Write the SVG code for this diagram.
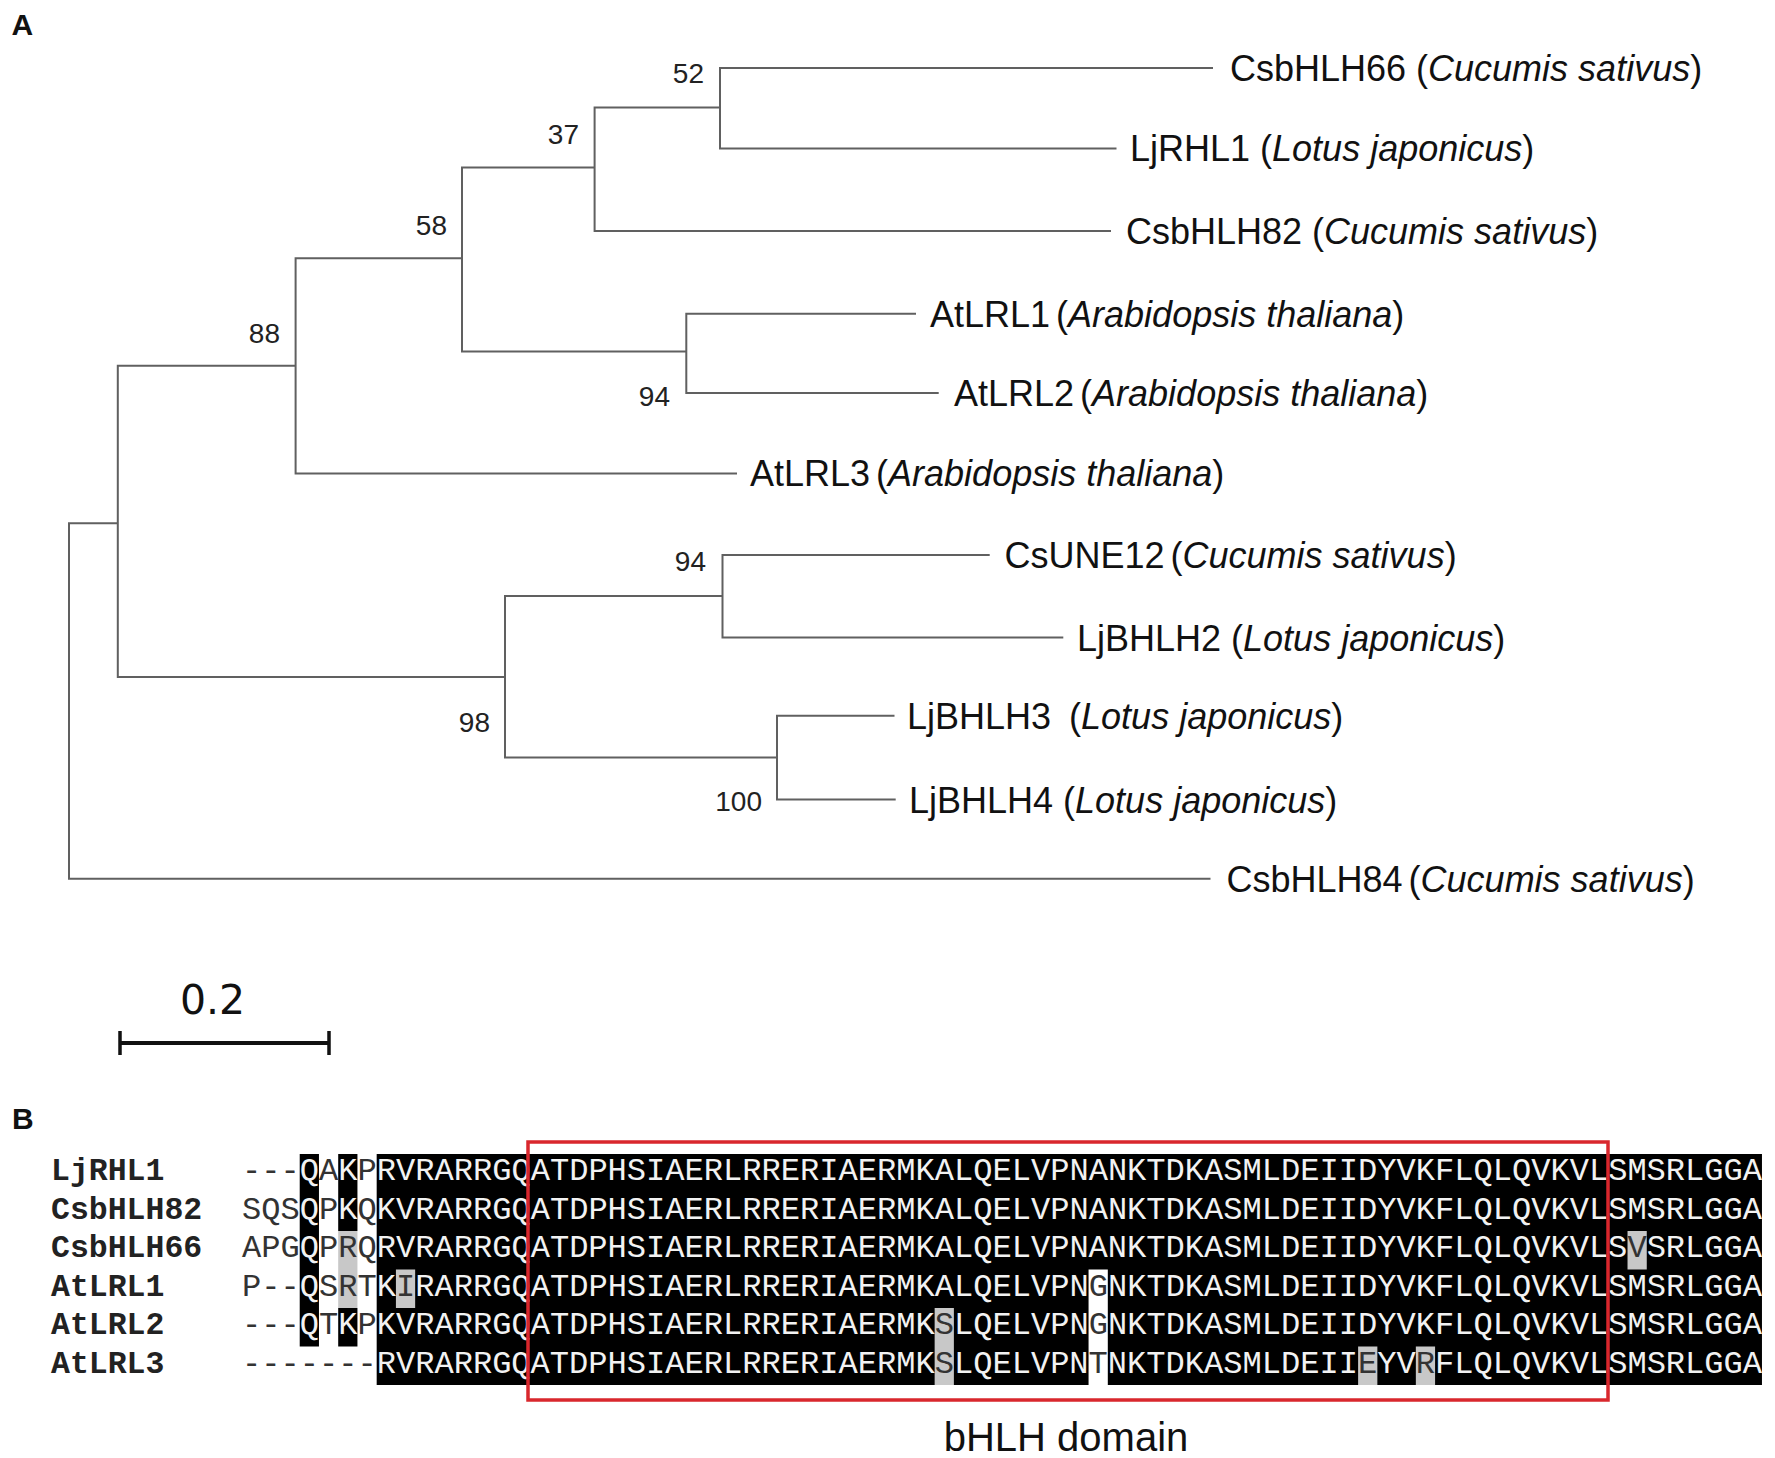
<svg xmlns="http://www.w3.org/2000/svg" width="1775" height="1458" viewBox="0 0 1775 1458">
<style>
.panel{font-family:"Liberation Sans",Arial,sans-serif;font-weight:bold;font-size:30px;fill:#111}
.leaf{font-family:"Liberation Sans",Arial,sans-serif;font-size:36px;fill:#111}
.sp{font-style:italic}
.bs{font-family:"Liberation Sans",Arial,sans-serif;font-size:28px;fill:#222;text-anchor:end}
.tree{fill:none;stroke:#606060;stroke-width:2;stroke-linecap:square}
.scale{font-family:"DejaVu Sans",Verdana,sans-serif;font-size:41px;fill:#111;text-anchor:middle}
.name{font-family:"Liberation Mono","Courier New",monospace;font-weight:bold;font-size:31.5px;fill:#222}
.seq{font-family:"Liberation Mono","Courier New",monospace;font-size:32.07px}
.w{fill:#f2f2f2}
.d{fill:#333}
.blk{fill:#000}
.gry{fill:#c8c8c8}
.wht{fill:#fff}
.dom{font-family:"Liberation Sans",Arial,sans-serif;font-size:40px;fill:#111;text-anchor:middle}
</style>
<rect width="1775" height="1458" fill="#fff"/>

<text class="panel" x="11.5" y="35">A</text>
<text class="panel" x="12" y="1129">B</text>

<g id="connectors">
<path class="tree" d="M69,523.2V878.8H1209.5 M69,523.2H117.8 M117.8,365.8V677 M117.8,365.8H295.6 M117.8,677H505 M295.6,258.2V473.4H736 M295.6,258.2H462 M462,167.6V351.5 M462,167.6H594.6 M462,351.5H686.3 M594.6,107.6V231H1110 M594.6,107.6H720 M720,68V148.4 M720,68H1212 M720,148.4H1115.5 M686.3,313.7V393 M686.3,313.7H915 M686.3,393H937.7 M505,596V757.6 M505,596H722.5 M505,757.6H777 M722.5,555V637.6 M722.5,555H988.7 M722.5,637.6H1062.3 M777,715.7V799.5 M777,715.7H893.5 M777,799.5H894.7"/>
<g id="scalebar" stroke="#111" fill="none">
<path d="M120,1043H329" stroke-width="4"/>
<path d="M120,1031V1055 M329,1031V1055" stroke-width="3.5"/>
</g>
</g>

<g id="node-52"><text class="bs" x="704" y="83">52</text></g>
<g id="node-37"><text class="bs" x="579" y="144">37</text></g>
<g id="node-58"><text class="bs" x="447" y="235">58</text></g>
<g id="node-94a"><text class="bs" x="670" y="406">94</text></g>
<g id="node-88"><text class="bs" x="280" y="343">88</text></g>
<g id="node-94b"><text class="bs" x="706" y="571">94</text></g>
<g id="node-98"><text class="bs" x="490" y="732">98</text></g>
<g id="node-100"><text class="bs" x="762" y="811">100</text></g>

<g id="leaf-CsbHLH66"><text class="leaf" x="1230" y="81">CsbHLH66 (<tspan class="sp">Cucumis sativus</tspan>)</text></g>
<g id="leaf-LjRHL1"><text class="leaf" x="1130" y="161.4">LjRHL1 (<tspan class="sp">Lotus japonicus</tspan>)</text></g>
<g id="leaf-CsbHLH82"><text class="leaf" x="1126" y="244">CsbHLH82 (<tspan class="sp">Cucumis sativus</tspan>)</text></g>
<g id="leaf-AtLRL1"><text class="leaf" x="930" y="326.7">AtLRL1<tspan dx="6">(</tspan><tspan class="sp">Arabidopsis thaliana</tspan>)</text></g>
<g id="leaf-AtLRL2"><text class="leaf" x="954" y="406">AtLRL2<tspan dx="6">(</tspan><tspan class="sp">Arabidopsis thaliana</tspan>)</text></g>
<g id="leaf-AtLRL3"><text class="leaf" x="750" y="486.4">AtLRL3<tspan dx="6">(</tspan><tspan class="sp">Arabidopsis thaliana</tspan>)</text></g>
<g id="leaf-CsUNE12"><text class="leaf" x="1004.5" y="568">CsUNE12<tspan dx="6">(</tspan><tspan class="sp">Cucumis sativus</tspan>)</text></g>
<g id="leaf-LjBHLH2"><text class="leaf" x="1077" y="650.6">LjBHLH2 (<tspan class="sp">Lotus japonicus</tspan>)</text></g>
<g id="leaf-LjBHLH3"><text class="leaf" x="907" y="728.7">LjBHLH3<tspan dx="18">(</tspan><tspan class="sp">Lotus japonicus</tspan>)</text></g>
<g id="leaf-LjBHLH4"><text class="leaf" x="909" y="812.5">LjBHLH4 (<tspan class="sp">Lotus japonicus</tspan>)</text></g>
<g id="leaf-CsbHLH84"><text class="leaf" x="1226.5" y="891.8">CsbHLH84<tspan dx="6">(</tspan><tspan class="sp">Cucumis sativus</tspan>)</text></g>

<g id="scale-label"><text class="scale" x="212.5" y="1014">0.2</text></g>

<g id="alignment">
<g id="shading">
<rect class="blk" x="376.68" y="1154" width="1385.28" height="231"/>
<rect class="blk" x="299.72" y="1154" width="19.24" height="192.5"/>
<rect class="blk" x="338.2" y="1154" width="19.24" height="77"/>
<rect class="gry" x="338.2" y="1231" width="19.24" height="77"/>
<rect class="blk" x="338.2" y="1308" width="19.24" height="38.5"/>
<rect class="gry" x="395.92" y="1269.5" width="19.24" height="38.5"/>
<rect class="gry" x="934.64" y="1308" width="19.24" height="77"/>
<rect class="wht" x="1088.56" y="1269.5" width="19.24" height="115.5"/>
<rect class="gry" x="1358.12" y="1346.5" width="19.24" height="38.5"/>
<rect class="gry" x="1415.84" y="1346.5" width="19.24" height="38.5"/>
<rect class="gry" x="1627.52" y="1231" width="19.24" height="38.5"/>
</g>
<g id="row-LjRHL1">
<text class="name" x="51" y="1180">LjRHL1</text>
<text class="seq" x="242" y="1180"><tspan class="d">---</tspan><tspan class="w">Q</tspan><tspan class="d">A</tspan><tspan class="w">K</tspan><tspan class="d">P</tspan><tspan class="w">RVRARRGQATDPHSIAERLRRERIAERMKALQELVPNANKTDKASMLDEIIDYVKFLQLQVKVLSMSRLGGA</tspan></text>
</g>
<g id="row-CsbHLH82">
<text class="name" x="51" y="1218.5">CsbHLH82</text>
<text class="seq" x="242" y="1218.5"><tspan class="d">SQS</tspan><tspan class="w">Q</tspan><tspan class="d">P</tspan><tspan class="w">K</tspan><tspan class="d">Q</tspan><tspan class="w">KVRARRGQATDPHSIAERLRRERIAERMKALQELVPNANKTDKASMLDEIIDYVKFLQLQVKVLSMSRLGGA</tspan></text>
</g>
<g id="row-CsbHLH66">
<text class="name" x="51" y="1257">CsbHLH66</text>
<text class="seq" x="242" y="1257"><tspan class="d">APG</tspan><tspan class="w">Q</tspan><tspan class="d">PRQ</tspan><tspan class="w">RVRARRGQATDPHSIAERLRRERIAERMKALQELVPNANKTDKASMLDEIIDYVKFLQLQVKVLS</tspan><tspan class="d">V</tspan><tspan class="w">SRLGGA</tspan></text>
</g>
<g id="row-AtLRL1">
<text class="name" x="51" y="1295.5">AtLRL1</text>
<text class="seq" x="242" y="1295.5"><tspan class="d">P--</tspan><tspan class="w">Q</tspan><tspan class="d">SRT</tspan><tspan class="w">K</tspan><tspan class="d">I</tspan><tspan class="w">RARRGQATDPHSIAERLRRERIAERMKALQELVPN</tspan><tspan class="d">G</tspan><tspan class="w">NKTDKASMLDEIIDYVKFLQLQVKVLSMSRLGGA</tspan></text>
</g>
<g id="row-AtLRL2">
<text class="name" x="51" y="1334">AtLRL2</text>
<text class="seq" x="242" y="1334"><tspan class="d">---</tspan><tspan class="w">Q</tspan><tspan class="d">T</tspan><tspan class="w">K</tspan><tspan class="d">P</tspan><tspan class="w">KVRARRGQATDPHSIAERLRRERIAERMK</tspan><tspan class="d">S</tspan><tspan class="w">LQELVPN</tspan><tspan class="d">G</tspan><tspan class="w">NKTDKASMLDEIIDYVKFLQLQVKVLSMSRLGGA</tspan></text>
</g>
<g id="row-AtLRL3">
<text class="name" x="51" y="1372.5">AtLRL3</text>
<text class="seq" x="242" y="1372.5"><tspan class="d">-------</tspan><tspan class="w">RVRARRGQATDPHSIAERLRRERIAERMK</tspan><tspan class="d">S</tspan><tspan class="w">LQELVPN</tspan><tspan class="d">T</tspan><tspan class="w">NKTDKASMLDEII</tspan><tspan class="d">E</tspan><tspan class="w">YV</tspan><tspan class="d">R</tspan><tspan class="w">FLQLQVKVLSMSRLGGA</tspan></text>
</g>
<g id="bHLH-domain">
<rect x="528" y="1142" width="1080" height="258" fill="none" stroke="#d9272d" stroke-width="3.5"/>
<text class="dom" x="1066" y="1451">bHLH domain</text>
</g>
</g>
</svg>
